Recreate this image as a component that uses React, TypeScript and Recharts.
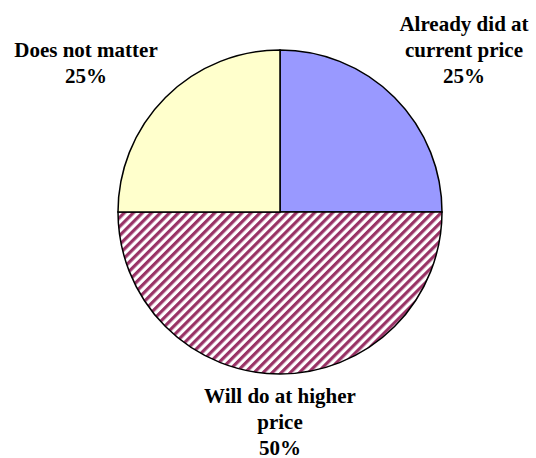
import React from "react";
import { PieChart, Pie, Cell } from "recharts";

const categories = ["Already did at current price", "Will do at higher price", "Does not matter"];
const values = [25, 50, 25];
const labelLines: string[][] = [
  ["Already did at", "current price", "25%"],
  ["Will do at higher", "price", "50%"],
  ["Does not matter", "25%"],
];
const fills = ["#9999FF", "url(#hatch)", "#FFFFCC"];

const data = categories.map((name, i) => ({ name, value: values[i] }));

const W = 536;
const H = 458;
const CX = 280;
const CY = 212;
const labelOffsets = [
  { dx: 184, dy: -181 },
  { dx: 0, dy: 191 },
  { dx: -194, dy: -155 },
];

export default function App() {
  return (
    <div style={{ position: "absolute", left: 0, top: 0, width: W, height: H, background: "#fff" }}>
      <PieChart width={W} height={H} margin={{ top: 0, right: 0, bottom: 0, left: 0 }}>
        <defs>
          <pattern
            id="hatch"
            patternUnits="userSpaceOnUse"
            width={6.4}
            height={10}
            patternTransform="rotate(45)"
          >
            <rect x={0} y={0} width={6.4} height={10} fill="#ffffff" />
            <rect x={0} y={0} width={3.2} height={10} fill="#993366" />
          </pattern>
        </defs>
        <Pie
          data={data}
          dataKey="value"
          nameKey="name"
          cx={CX}
          cy={CY}
          outerRadius={162}
          startAngle={90}
          endAngle={-270}
          stroke="#000"
          strokeWidth={1.5}
          label={false}
          labelLine={false}
          isAnimationActive={false}
        >
          {data.map((d, i) => (
            <Cell key={d.name} fill={fills[i]} />
          ))}
        </Pie>
      </PieChart>
      <svg
        width={W}
        height={H}
        style={{ position: "absolute", left: 0, top: 0, pointerEvents: "none" }}
      >
        {labelLines.map((lines, i) => {
          const x = CX + labelOffsets[i].dx;
          return (
            <text
              key={categories[i]}
              x={x}
              y={CY + labelOffsets[i].dy}
              textAnchor="middle"
              fontFamily="Liberation Serif"
              fontWeight="bold"
              fontSize={21}
              fill="#000"
            >
              {lines.map((l, j) => (
                <tspan key={j} x={x} dy={j === 0 ? 0 : 26}>
                  {l}
                </tspan>
              ))}
            </text>
          );
        })}
      </svg>
    </div>
  );
}
